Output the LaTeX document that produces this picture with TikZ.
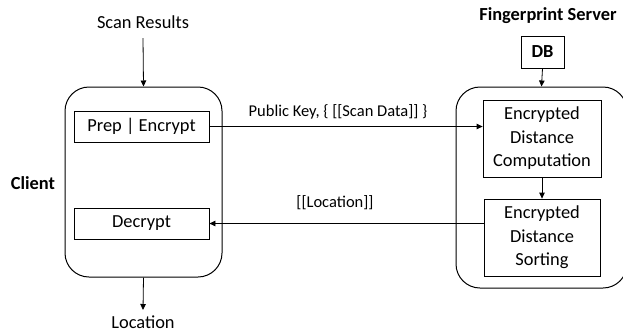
\documentclass[tikz,border=0pt]{standalone}
\usepackage{fontspec}
\setmainfont{Carlito}
\usetikzlibrary{arrows.meta}
\begin{document}
\begin{tikzpicture}[x=1pt,y=-1pt,
  txt/.style={font=\fontsize{18.4}{23.5}\selectfont, inner sep=0pt},
  lbl/.style={font=\fontsize{16.5}{20}\selectfont, inner sep=0pt},
  bold/.style={font=\fontsize{18.4}{22}\selectfont\bfseries, inner sep=0pt},
  group/.style={draw, line width=1pt, rounded corners=24pt, inner sep=0pt},
  proc/.style={draw, line width=0.8pt, inner sep=0pt, align=center, font=\fontsize{18.4}{23.5}\selectfont},
  arr/.style={line width=0.8pt, -{Triangle[length=6pt,width=5.5pt]}}
]
\useasboundingbox (0,0) rectangle (623,333);
% client
\node[group, minimum width=157pt, minimum height=190pt] (client) at (143.5,182) {};
\node[proc, minimum width=135pt, minimum height=31pt] (prep) at (141.5,126.5) {Prep | Encrypt};
\node[proc, minimum width=135pt, minimum height=31pt] (decrypt) at (141.5,223.5) {Decrypt};
\node[txt] (scan) at (143,22) {Scan Results};
\node[txt] (loc) at (143,322.5) {Location};
\node[bold] (clientlbl) at (33,183) {Client};
% server
\node[group, minimum width=171pt, minimum height=201pt] (server) at (541.5,187.5) {};
\node[proc, minimum width=118pt, minimum height=77pt] (comp) at (542,138.5) {Encrypted\\Distance\\Computation};
\node[proc, minimum width=116pt, minimum height=77pt] (sort) at (542,237.5) {Encrypted\\Distance\\Sorting};
\node[proc, minimum width=43pt, minimum height=32pt, font=\fontsize{18.4}{22}\selectfont\bfseries] (db) at (542.5,52) {DB};
\node[bold] (fp) at (548,16) {Fingerprint Server};
% connectors
\draw[arr] (scan.south |- 0,38) -- (client.north);
\draw[arr] (client.south) -- (loc.north |- 0,310);
\draw[arr] (db.south) -- (server.north);
\draw[arr] (comp.south) -- (sort.north);
\draw[arr] (prep.east) -- (prep.east -| comp.west);
\draw[arr] (decrypt.east -| sort.west) -- (decrypt.east);
\node[lbl] (pk) at (338,112) {Public Key, \{ [[Scan Data]] \}};
\node[lbl] (ll) at (335,203) {[[Location]]};
\end{tikzpicture}
\end{document}
